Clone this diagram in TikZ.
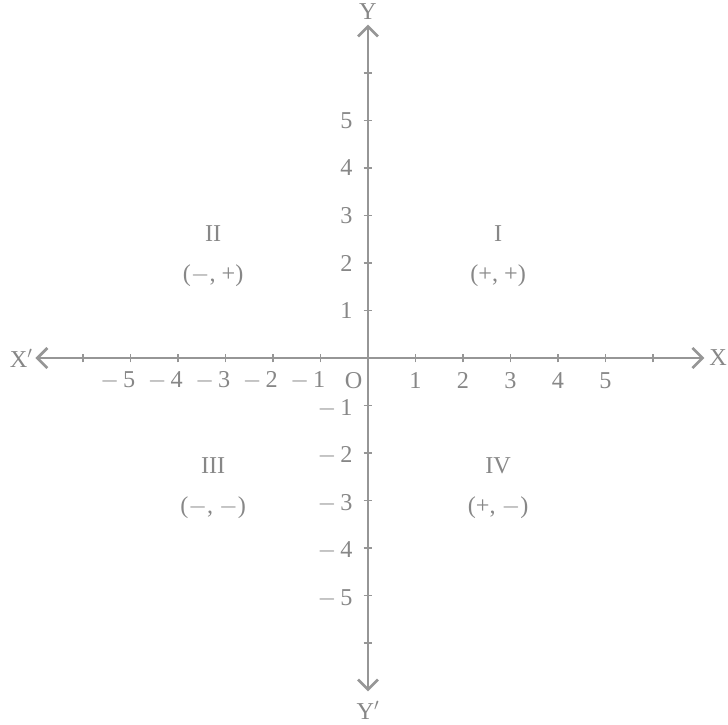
\documentclass[tikz,border=0pt]{standalone}
\usepackage{fontspec}
\setmainfont{Liberation Serif}
\usetikzlibrary{arrows.meta}
\definecolor{axisgray}{RGB}{150,150,150}
\definecolor{labelgray}{RGB}{135,135,135}

\begin{document}
\begin{tikzpicture}[line width=1.6pt, draw=axisgray, >={Straight Barb[length=6pt,width=12pt]},
    lab/.style={text=labelgray, inner sep=0pt, font=\fontsize{14.5}{16}\selectfont}]
    \useasboundingbox (-7.747,-7.705) rectangle (7.579,7.537);
    % Axes
    \coordinate (xl) at (-7,0); \coordinate (xr) at (7.08,0);
    \coordinate (yt) at (0,7.02); \coordinate (yb) at (0,-7.02);
    \draw[<->, axisgray] (xl) -- (xr);
    \draw[<->, axisgray] (yb) -- (yt);
    \node[lab] (xlab) at (7.37,0) {X};
    \node[lab] (xplab) at (-7.3,0) {X$'$};
    \node[lab] (ylab) at (0,7.3) {Y};
    \node[lab] (yplab) at (0,-7.42) {Y$'$};
    % Ticks
    \foreach \i in {-6,...,-1,1,2,...,6} {
        \draw[axisgray, line width=1.1pt] (\i,-0.09) -- (\i,0.09);
        \draw[axisgray, line width=1.1pt] (-0.09,\i) -- (0.09,\i);
    }
    % Tick labels
    \node[lab] (orig) at (-0.3,-0.47) {O};
    \foreach \i in {1,...,5} {
        \node[lab] (xp\i) at (\i,-0.47) {\i};
        \node[lab, anchor=east] (xm\i) at (-\i+0.13,-0.47) {$-$\,\i};
        \node[lab, anchor=east] (yp\i) at (-0.3,\i) {\i};
        \node[lab, anchor=east] (ym\i) at (-0.3,-\i-0.06) {$-$\,\i};
    }
    % Quadrants
    \node[lab] (q1) at (2.74,2.63) {I};
    \node[lab] (s1) at (2.74,1.73) {(+, +)};
    \node[lab] (q2) at (-3.26,2.63) {II};
    \node[lab] (s2) at (-3.26,1.73) {($-$, +)};
    \node[lab] (q3) at (-3.26,-2.27) {III};
    \node[lab] (s3) at (-3.26,-3.16) {($-$, $-$)};
    \node[lab] (q4) at (2.74,-2.27) {IV};
    \node[lab] (s4) at (2.74,-3.16) {(+, $-$)};
\end{tikzpicture}
\end{document}
